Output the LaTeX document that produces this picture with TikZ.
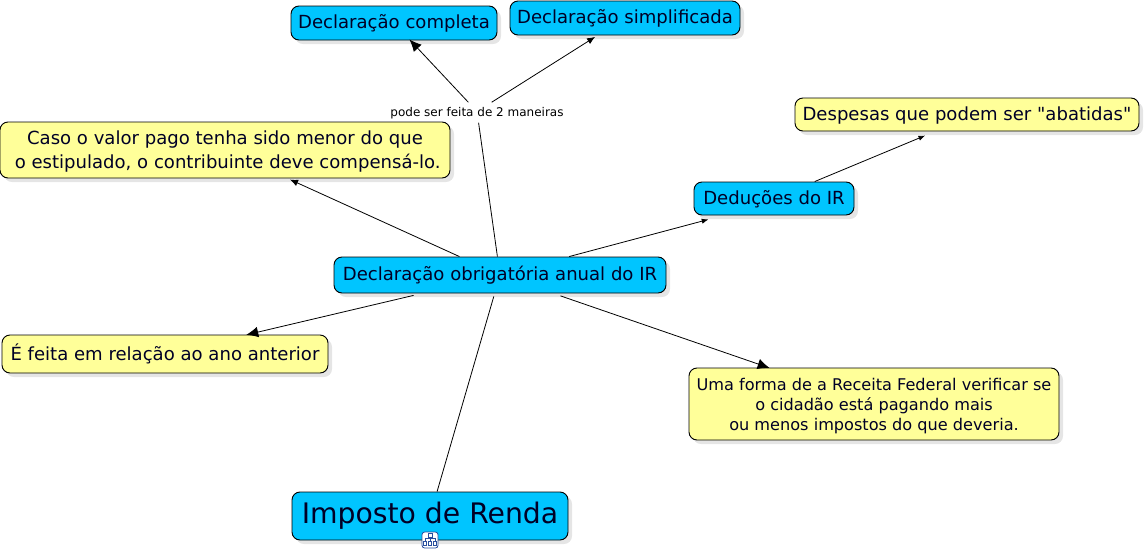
\documentclass[tikz,border=0pt]{standalone}
\usepackage{fontspec}
\setmainfont{DejaVu Sans}
\newfontfamily\plainfont{DejaVu Sans}
\usepackage{tikz}
\usetikzlibrary{arrows.meta,shadows}
\definecolor{bluebox}{HTML}{00C5FF}
\definecolor{yellowbox}{HTML}{FFFF99}
\definecolor{iconblue}{HTML}{2A4F9E}
\tikzset{
  conc/.style={draw=black,line width=0.7pt,rounded corners=6pt,inner sep=0pt,align=center,
    text=black!85!blue,drop shadow={shadow xshift=3pt,shadow yshift=-3pt,fill=black,opacity=0.1}},
  bluec/.style={conc,fill=bluebox},
  yellowc/.style={conc,fill=yellowbox},
  normaltxt/.style={font=\fontsize{13.55}{18.5}\selectfont},
  onetxt/.style={normaltxt,text height=11.5pt,text depth=3pt},
  link/.style={line width=0.6pt},
  tipbig/.style={link,shorten >=-1pt,-{Latex[length=9pt,width=8pt]}},
  tipmid/.style={link,shorten >=2pt,-{Latex[length=6pt,width=5pt]}},
  tipsmall/.style={link,-{Latex[length=5pt,width=4pt]}},
}
\begin{document}
\begin{tikzpicture}[x=0.75pt,y=-0.75pt]
\useasboundingbox (0,0) rectangle (1144,551);
\node[bluec,onetxt,minimum width=154.5pt,minimum height=25.5pt] (compl) at (394,23)
    {Declaração completa};
\node[bluec,onetxt,minimum width=172.5pt,minimum height=25.5pt] (simpl) at (625,18)
    {Declaração simplificada};
\node[yellowc,normaltxt,minimum width=337.5pt,minimum height=42pt] (caso) at (225,150)
    {\rule{0pt}{12.5pt}Caso o valor pago tenha sido menor do que\\\hspace{4pt}o estipulado, o contribuinte deve compensá-lo.};
\node[yellowc,onetxt,minimum width=258pt,minimum height=24.75pt] (desp) at (967,114.5)
    {Despesas que podem ser {\plainfont"}abatidas{\plainfont"}};
\node[bluec,onetxt,minimum width=120pt,minimum height=24.75pt] (ded) at (774,198.5)
    {Deduções do IR};
\node[bluec,onetxt,minimum width=249pt,minimum height=27pt] (decl) at (500,275)
    {Declaração obrigatória anual do IR};
\node[yellowc,onetxt,text height=13pt,minimum width=244.5pt,minimum height=28.5pt] (feita) at (165,354)
    {É feita em relação ao ano anterior};
\node[yellowc,font=\fontsize{12.1}{15}\selectfont,minimum width=277.5pt,minimum height=54pt] (forma) at (874,404)
    {\rule{0pt}{11.5pt}Uma forma de a Receita Federal verificar se\\o cidadão está pagando mais\\ou menos impostos do que deveria.};
\node[bluec,font=\fontsize{21.2}{26}\selectfont,minimum width=207pt,minimum height=36pt] (ir) at (430,516)
    {Imposto de Renda};
\node[font=\fontsize{9}{11}\selectfont,inner sep=0pt,text height=10pt,text depth=2pt,minimum width=130pt,minimum height=13.5pt] (lbl) at (477,111.5)
    {pode ser feita de 2 maneiras};

\draw[link,shorten >=2.3pt](ir) -- (decl);
\draw[link,shorten >=1.5pt](decl) -- (lbl);
\draw[tipbig](lbl)  -- (compl);
\draw[tipmid](lbl)  -- (simpl);
\draw[tipmid](decl) -- (caso);
\draw[tipbig,shorten <=6.3pt](decl) -- (feita);
\draw[tipbig,shorten <=5.5pt](decl) -- (forma);
\draw[tipsmall,shorten >=11.6pt](decl) -- ([xshift=-38pt]ded.south);
\draw[tipsmall,shorten >=8pt](ded)  -- ([xshift=-24pt]desp.south);

\node[draw=iconblue,fill=white,line width=0.6pt,rounded corners=2pt,minimum size=12pt,inner sep=0pt] (icon) at (430,540) {};
\draw[iconblue,line width=0.5pt] (430,537) -- (430,541) (425,541) -- (425,538.5) -- (435,538.5) -- (435,541);
\draw[iconblue,line width=0.5pt,fill=white] (428,533.5) rectangle (432,537) (423.5,541) rectangle (426.5,545) (428.5,541) rectangle (431.5,545) (433.5,541) rectangle (436.5,545);
\end{tikzpicture}
\end{document}
